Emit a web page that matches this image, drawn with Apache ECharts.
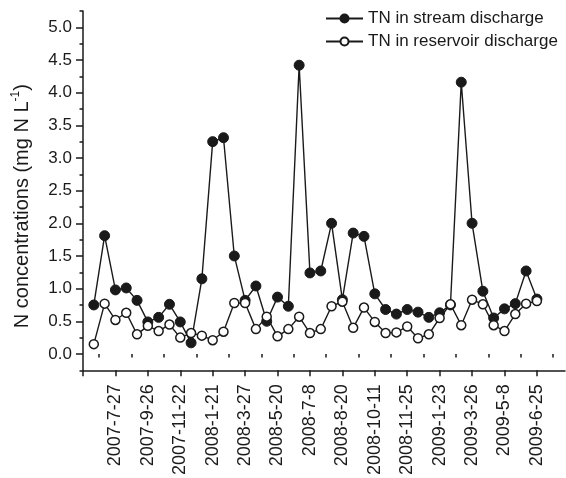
<!DOCTYPE html>
<html>
<head>
<meta charset="utf-8">
<script src="https://cdn.jsdelivr.net/npm/echarts@6/dist/echarts.min.js"></script>
<style>
html,body{margin:0;padding:0;background:#fff;}
#c{width:566px;height:478px;}
</style>
</head>
<body>
<div id="c"></div>
<script>
// Tick labels on the x axis (every third sampling date)
var tickLabels = ["2007-7-27","2007-9-26","2007-11-22","2008-1-21","2008-3-27","2008-5-20","2008-7-8","2008-8-20","2008-10-11","2008-11-25","2009-1-23","2009-3-26","2009-5-8","2009-6-25"];
// Sampling index positions of labelled dates
var tickPositions = [3,6,9,12,15,18,21,24,27,30,33,36,39,42];
// Series values (mg N L-1), 42 samples each
var streamTN = [0.75,1.81,0.98,1.01,0.82,0.49,0.56,0.76,0.49,0.17,1.15,3.25,3.31,1.50,0.82,1.04,0.50,0.87,0.73,4.42,1.24,1.27,2.00,0.83,1.85,1.80,0.92,0.68,0.61,0.68,0.64,0.56,0.63,0.75,4.16,2.00,0.96,0.55,0.69,0.77,1.27,0.84];
var reservoirTN = [0.15,0.77,0.52,0.63,0.30,0.43,0.35,0.45,0.25,0.32,0.28,0.21,0.34,0.78,0.78,0.38,0.57,0.27,0.38,0.57,0.32,0.38,0.73,0.80,0.40,0.71,0.49,0.32,0.33,0.42,0.24,0.30,0.55,0.76,0.44,0.83,0.76,0.44,0.35,0.61,0.77,0.81];
var yMajor = [0,0.5,1,1.5,2,2.5,3,3.5,4,4.5,5];
var yMinor = [-0.25,0.25,0.75,1.25,1.75,2.25,2.75,3.25,3.75,4.25,4.75,5.25];
var xMinor = [1.5,4.5,7.5,10.5,13.5,16.5,19.5,22.5,25.5,28.5,31.5,34.5,37.5,40.5,43.5];

var font = '"Liberation Sans", Arial, sans-serif';
var ink = '#1a1a1a';
function pairs(arr){ return arr.map(function(v,i){ return [i+1, v]; }); }

var chart = echarts.init(document.getElementById('c'), null, {renderer:'canvas'});
chart.setOption({
  animation: false,
  backgroundColor: '#fff',
  textStyle: {fontFamily: font, color: ink},
  grid: {left: 83, right: 1, top: 11, bottom: 106, containLabel: false},
  legend: {
    orient: 'vertical', left: 320, top: 5,
    itemWidth: 37, itemHeight: 10, itemGap: 6,
    textStyle: {fontFamily: font, fontSize: 17, color: ink},
    data: ['TN in stream discharge','TN in reservoir discharge']
  },
  xAxis: [{
    type: 'value', position: 'bottom', min: 0, max: 44.6,
    splitLine: {show:false},
    axisLine: {show:true, onZero:false, lineStyle:{color:ink, width:1.5}},
    axisTick: {show:true, inside:false, length:6, customValues: [0].concat(tickPositions), lineStyle:{color:ink, width:1.5}},
    axisLabel: {show:true, rotate:90, margin:14, fontFamily: font, fontSize:18, color: ink,
      customValues: tickPositions,
      formatter: function(v){ var i = tickPositions.indexOf(Math.round(v)); return i>=0 ? tickLabels[i] : ''; }}
  },{
    type: 'value', position: 'bottom', min: 0, max: 44.6,
    splitLine: {show:false},
    axisLine: {show:false},
    axisTick: {show:true, inside:false, length:3.5, customValues: xMinor, lineStyle:{color:ink, width:1.5}},
    axisLabel: {show:false}
  }],
  yAxis: [{
    type: 'value', position: 'left', min: -0.25, max: 5.25,
    splitLine: {show:false},
    axisLine: {show:true, onZero:false, lineStyle:{color:ink, width:1.5}},
    axisTick: {show:true, inside:false, length:7, customValues: yMajor, lineStyle:{color:ink, width:1.5}},
    axisLabel: {show:true, margin:11, fontFamily: font, fontSize:17, color: ink,
      customValues: yMajor,
      formatter: function(v){ return v.toFixed(1); }},
    name: 'N concentrations (mg N L{sup|-1})',
    nameLocation: 'middle', nameRotate: 90, nameGap: 49,
    nameTextStyle: {fontFamily: font, fontSize: 20, color: ink, lineHeight: 24, padding:[0,31,0,0],
      rich: {sup: {fontFamily: font, fontSize: 12, lineHeight: 12, verticalAlign: 'top', color: ink}}}
  },{
    type: 'value', position: 'left', min: -0.25, max: 5.25,
    splitLine: {show:false},
    axisLine: {show:false},
    axisTick: {show:true, inside:false, length:3.5, customValues: yMinor, lineStyle:{color:ink, width:1.5}},
    axisLabel: {show:false}
  }],
  series: [{
    name: 'TN in stream discharge', type: 'line', xAxisIndex:0, yAxisIndex:0,
    data: pairs(streamTN),
    symbol: 'circle', symbolSize: 10,
    lineStyle: {color: ink, width: 1.4},
    itemStyle: {color: ink, borderColor: ink, borderWidth: 1}
  },{
    name: 'TN in reservoir discharge', type: 'line', xAxisIndex:0, yAxisIndex:0,
    data: pairs(reservoirTN),
    symbol: 'circle', symbolSize: 9,
    lineStyle: {color: ink, width: 1.4},
    itemStyle: {color: '#fff', borderColor: ink, borderWidth: 1.5}
  }]
});
</script>
</body>
</html>
